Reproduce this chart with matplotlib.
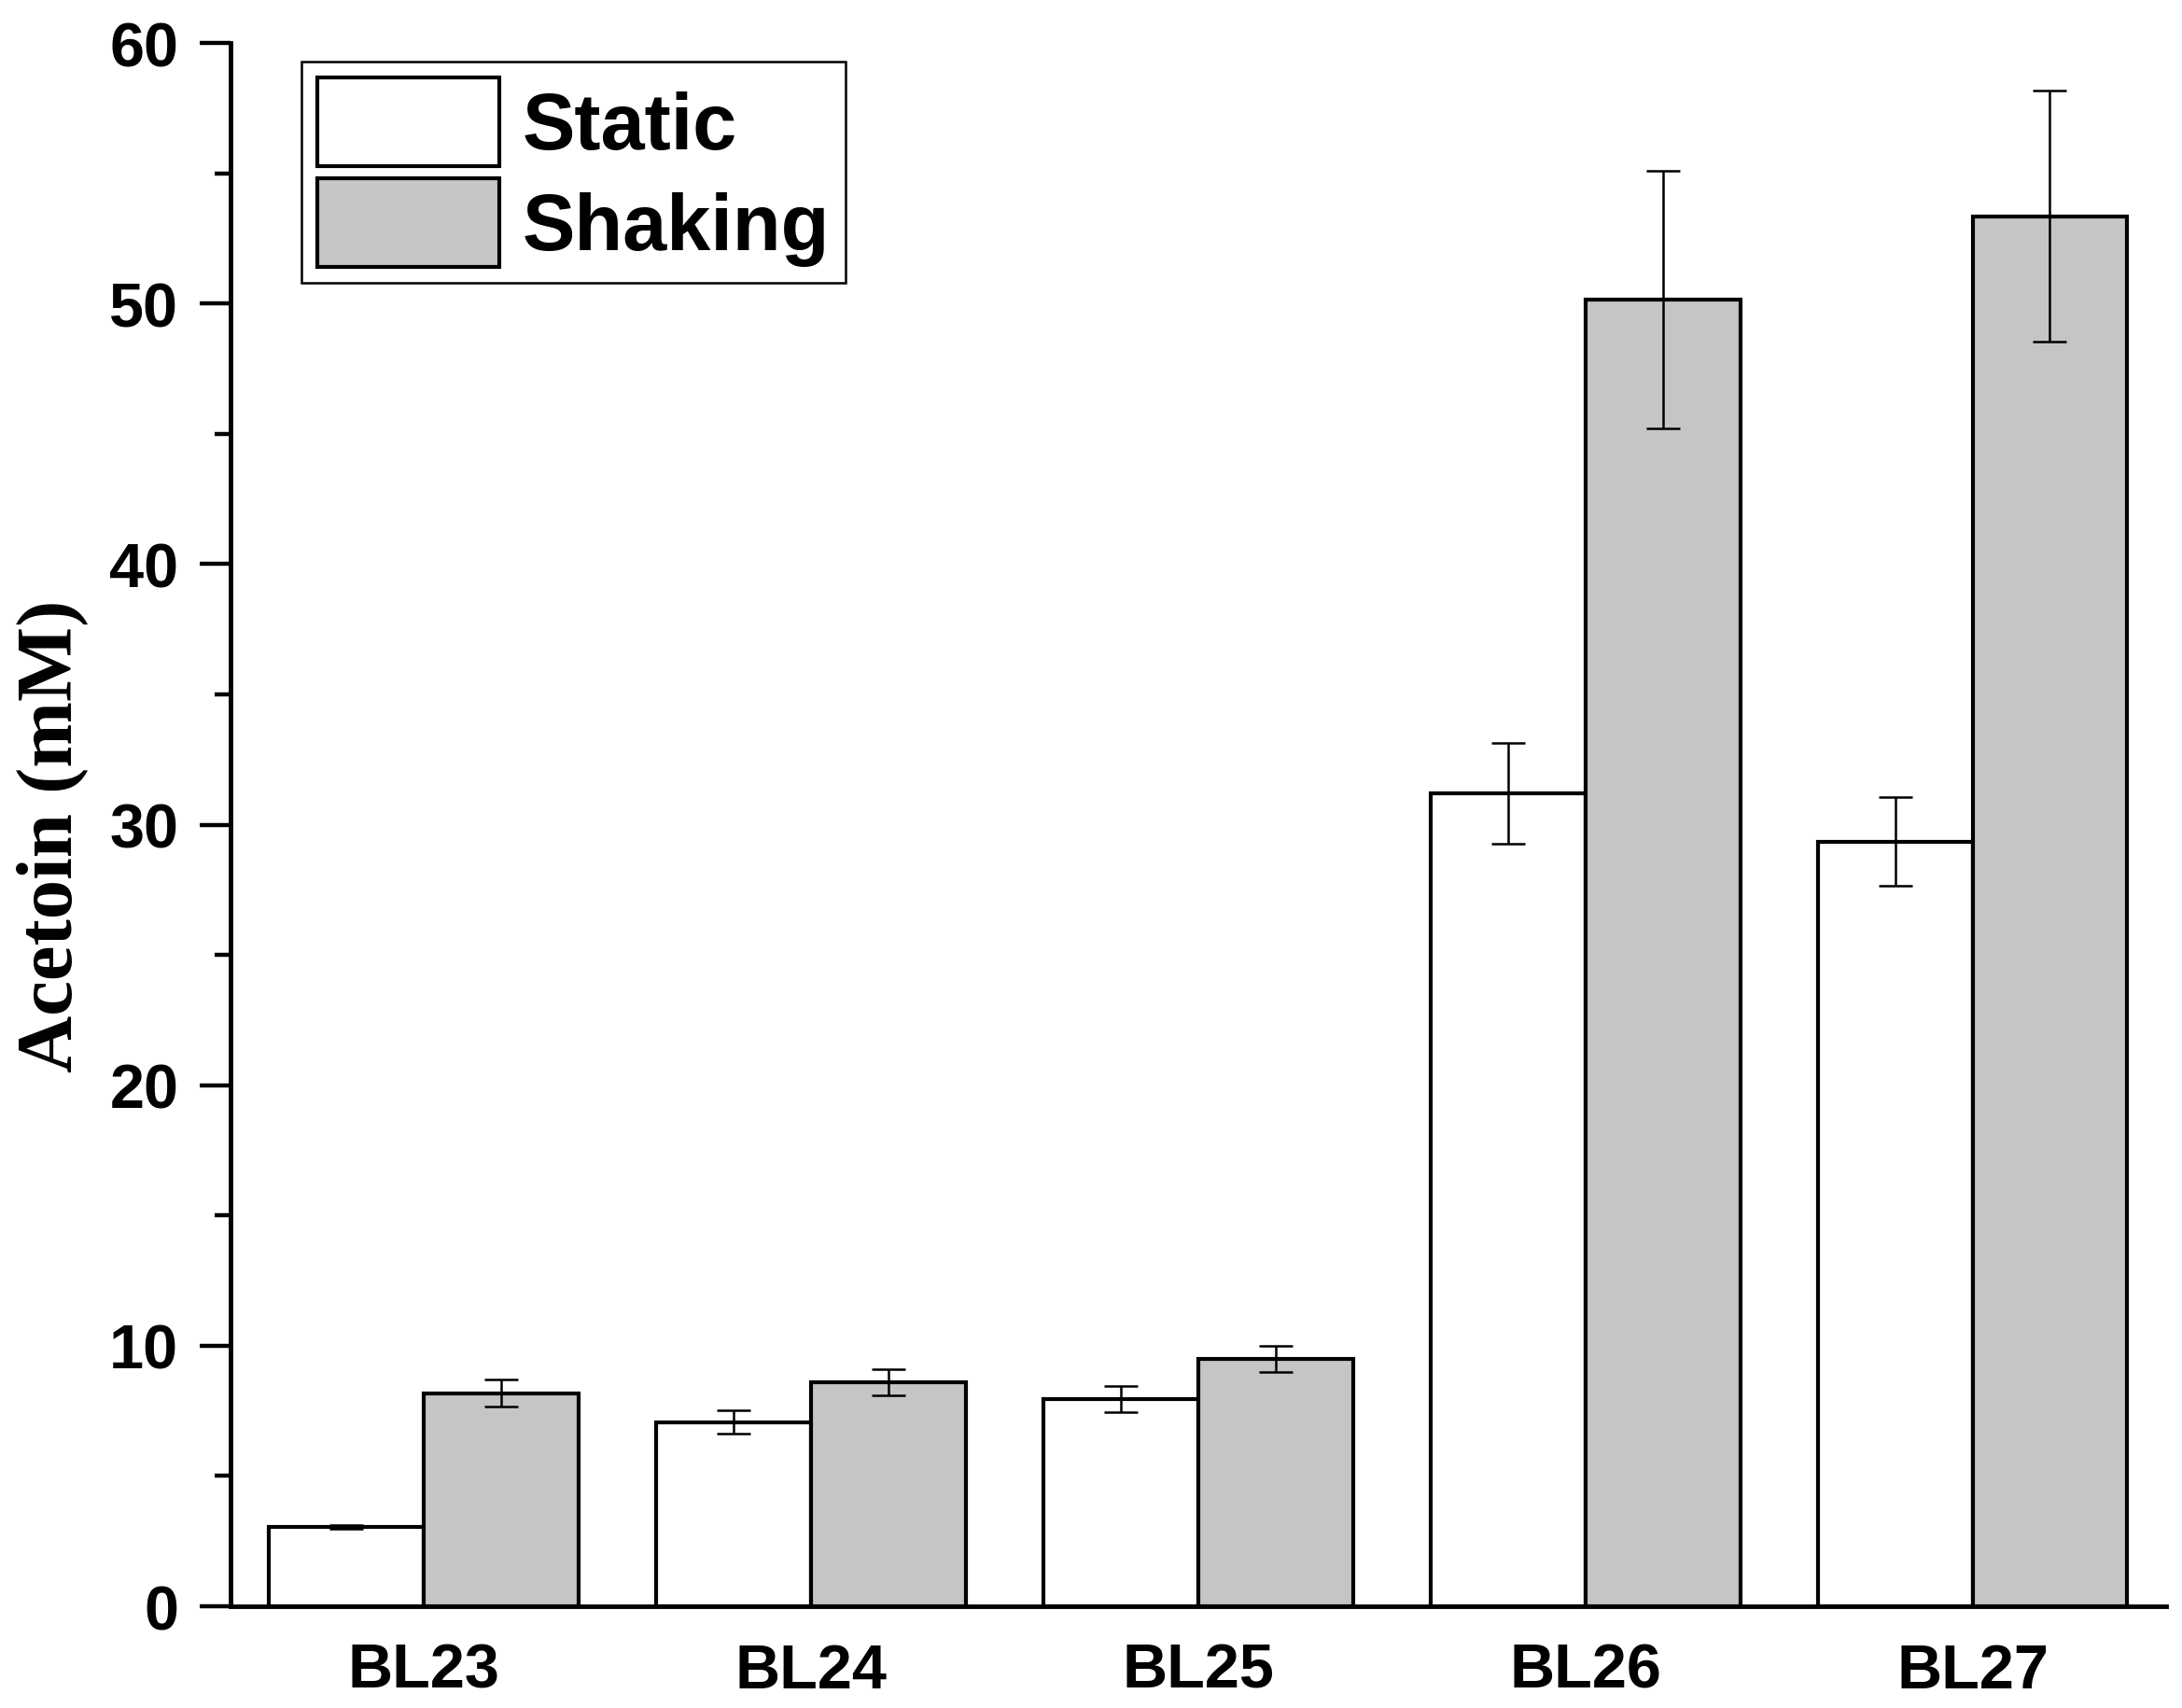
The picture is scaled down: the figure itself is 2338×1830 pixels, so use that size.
import numpy as np
import matplotlib.pyplot as plt
from matplotlib.ticker import MultipleLocator

# --- datos ---
strains = ['BL23', 'BL24', 'BL25', 'BL26', 'BL27']
static_vals = [3.04, 7.07, 7.96, 31.2, 29.35]
static_err = [0.08, 0.44, 0.49, 1.95, 1.70]
shaking_vals = [8.17, 8.59, 9.50, 50.15, 53.35]
shaking_err = [0.52, 0.50, 0.49, 4.94, 4.81]

SANS = ['Liberation Sans', 'Arial', 'DejaVu Sans']
SERIF = ['Liberation Serif', 'Times New Roman', 'DejaVu Serif']

fig = plt.figure(figsize=(23.38, 18.31), dpi=100)
ax = fig.add_axes([0.1056, 0.0595, 0.8871, 0.9148])

x = np.arange(len(strains))
w = 0.4
ekw = dict(ecolor='black', elinewidth=1.8, capthick=1.8, capsize=13, zorder=4)

ax.bar(x - w / 2, static_vals, w, yerr=static_err, color='white',
       edgecolor='black', linewidth=3, label='Static', error_kw=ekw, zorder=3)
ax.bar(x + w / 2, shaking_vals, w, yerr=shaking_err, color='#c5c5c5',
       edgecolor='black', linewidth=3, label='Shaking', error_kw=ekw, zorder=3)

ax.set_xlim(-0.5, 4.5)
ax.set_ylim(0, 60)
ax.yaxis.set_major_locator(MultipleLocator(10))
ax.yaxis.set_minor_locator(MultipleLocator(5))

for s in ['top', 'right']:
    ax.spines[s].set_visible(False)
for s in ['left', 'bottom']:
    ax.spines[s].set_linewidth(3.5)
    ax.spines[s].set_zorder(5)

ax.tick_params(axis='y', which='major', direction='out', length=24, width=3.2, pad=16)
ax.tick_params(axis='y', which='minor', direction='out', length=12, width=3.2)
ax.tick_params(axis='x', length=0, pad=28)

ax.set_xticks(x)
ax.set_xticklabels(strains, family=SANS, fontweight='bold', fontsize=48)
for lab in ax.get_yticklabels():
    lab.set_family(SANS)
    lab.set_fontweight('bold')
    lab.set_fontsize(48)

ax.set_ylabel('Acetoin (mM)', family=SERIF, fontweight='bold', fontsize=61)
ax.yaxis.set_label_coords(-0.073, 0.493)

leg = ax.legend(loc='upper left', bbox_to_anchor=(0.0366, 0.988), borderaxespad=0,
                prop=dict(family=SANS, weight='bold', size=61),
                handlelength=2.3, handleheight=1.35, labelspacing=0.15,
                borderpad=0.2, handletextpad=0.3, fancybox=False,
                framealpha=1, edgecolor='black')
leg.get_frame().set_linewidth(1.8)

fig.savefig('out.png', dpi=100, facecolor='white')
